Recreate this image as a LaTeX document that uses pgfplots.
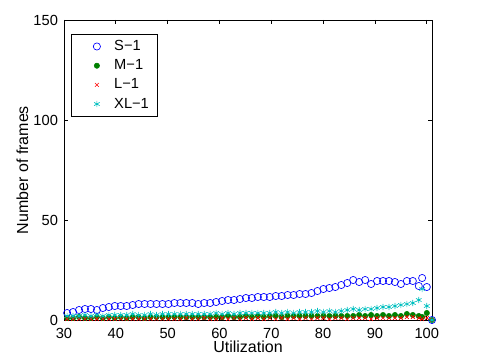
\documentclass[border=0pt]{standalone}
\usepackage{pgfplots}
\pgfplotsset{compat=1.18}
\usepackage{pgfplotstable}
\usepackage{fontspec}
\setmainfont{Liberation Sans}
\definecolor{mblue}{rgb}{0,0,1}
\definecolor{mgreen}{rgb}{0,0.5,0}
\definecolor{mred}{rgb}{1,0,0}
\definecolor{mcyan}{rgb}{0,0.75,0.75}
\pgfplotstableread{
x S M L XL
30.6 3.5 1.0 0.5 2.0
31.75 4 1.0 0.5 2.0
32.9 5 1.5 0.5 2.0
34.05 5.5 1.0 0.5 2.5
35.2 5.5 1.0 0.5 2.0
36.35 5 1.5 0.5 2.5
37.5 6 1.0 0.5 2.0
38.65 6.5 1.5 0.5 2.5
39.8 7 1.0 0.5 2.5
40.95 7 1.5 0.5 2.5
42.1 7 1.0 0.5 2.5
43.25 7.5 1.5 0.5 3.0
44.4 8 1.5 0.5 2.5
45.55 8 1.0 0.5 2.5
46.7 8 1.5 0.5 3.0
47.85 8 1.5 0.5 2.5
49.0 8 1.5 0.5 3.0
50.15 8 1.5 0.5 3.0
51.3 8.5 1.5 0.5 3.0
52.45 8.5 1.5 0.5 3.0
53.6 8.5 1.5 1.0 3.0
54.75 8.5 1.5 0.5 3.0
55.9 8 1.5 0.5 3.0
57.05 8.5 1.5 1.0 3.0
58.2 8.5 1.5 0.5 3.0
59.35 9 1.5 0.5 3.5
60.5 9.5 1.5 1.0 3.0
61.65 10 2.0 0.5 3.5
62.8 10 1.5 1.0 3.0
63.95 10.5 1.5 0.5 3.5
65.1 11 2.0 1.0 3.5
66.25 11 1.5 0.5 3.5
67.4 11.5 2.0 1.0 3.5
68.55 11.5 1.5 0.5 3.5
69.7 11.5 2.0 1.0 3.5
70.85 12 2.0 0.5 4.0
72.0 12 1.5 1.0 3.5
73.15 12.5 2.0 0.5 4.0
74.3 12.5 2.0 1.0 3.5
75.45 13 2.0 0.5 4.0
76.6 13 2.0 1.0 4.0
77.75 13.5 2.0 0.5 4.0
78.9 14.5 2.0 1.0 4.5
80.05 15.5 2.0 1.0 4.0
81.2 16 2.0 0.5 4.5
82.35 16.5 2.0 1.0 4.0
83.5 17.5 2.0 1.0 4.5
84.65 18.5 2.0 0.5 5.0
85.8 20 2.0 1.0 5.5
86.95 19 2.5 1.0 5.0
88.1 20 2.0 1.0 5.5
89.25 18 2.5 0.5 5.5
90.4 19.5 2.0 1.0 6.0
91.55 19.5 2.5 1.0 6.5
92.7 19.5 2.0 1.0 6.5
93.85 19 2.5 1.0 7.0
95.0 18 2.0 1.0 7.5
96.15 19.5 3.0 1.5 8.0
97.3 19.5 2.5 1.5 8.5
98.45 17 2.0 1.0 10.0
99.1 21 1.5 0.5 15.5
100.0 16.5 3.5 1.0 7.0
101.0 0 0 0 0
}\datatable
\begin{document}
\begin{tikzpicture}
\begin{axis}[
  name=ax,
  scale only axis,
  width=276pt, height=225pt,
  xmin=30, xmax=101, ymin=0, ymax=150,
  xtick={30,40,50,60,70,80,90,100},
  ytick={0,50,100,150},
  tick align=inside,
  tick pos=both,
  major tick length=3pt,
  axis line style={black, line width=0.5pt},
  every tick/.style={black, line width=0.5pt},
  tick label style={font=\fontsize{11}{13}\selectfont},
  label style={font=\fontsize{12}{14}\selectfont},
  /pgf/number format/assume math mode=true,
  xticklabel style={anchor=base, yshift=-14pt},
  yticklabel style={xshift=-1pt},
  xlabel={Utilization},
  ylabel={Number of frames},
  xlabel style={at={(axis description cs:0.5,0)}, anchor=base, yshift=-24.5pt},
  ylabel style={yshift=-3pt},
  clip=false,
  legend cell align=left,
  legend style={at={(0.018,0.953)}, anchor=north west, draw=black, fill=white,
    font=\fontsize{11}{13}\selectfont, row sep=1.3pt, inner xsep=4.5pt, inner ysep=2.5pt},
  legend image code/.code={\path[draw=none,fill=none] (0pt,0pt) -- (26pt,0pt); \path[#1] plot[only marks] coordinates {(15pt,0pt)};},
]
\addplot[only marks, mark=o, mark size=2.7pt, color=mblue, line width=0.5pt] table[x=x,y=S]{\datatable};
\addlegendentry{S−1}
\addplot[only marks, mark=*, mark size=2pt, color=mgreen, mark options={fill=mgreen}] table[x=x,y=M]{\datatable};
\addlegendentry{M−1}
\addplot[only marks, mark=x, mark size=2pt, color=mred, line width=0.5pt] table[x=x,y=L]{\datatable};
\addlegendentry{L−1}
\addplot[only marks, mark=asterisk, mark size=2.4pt, color=mcyan, line width=0.5pt] table[x=x,y=XL]{\datatable};
\addlegendentry{XL−1}
\end{axis}
\pgfresetboundingbox
\path[use as bounding box] ([shift={(-48pt,-30pt)}]ax.south west) rectangle ([shift={(35.25pt,15pt)}]ax.north east);
\end{tikzpicture}
\end{document}
